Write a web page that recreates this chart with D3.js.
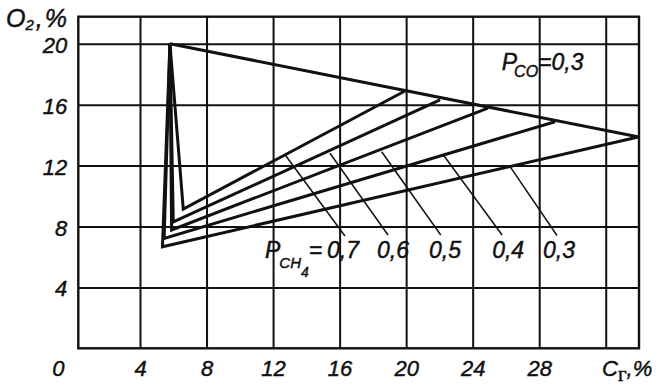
<!DOCTYPE html>
<html>
<head>
<meta charset="utf-8">
<script src="https://cdn.jsdelivr.net/npm/d3@7"></script>
<style>
  body { margin: 0; background: #fff; }
  text { font-family: "Liberation Sans", Arial, sans-serif; font-style: italic; fill: #111; stroke: #111; stroke-width: 0.45px; }
</style>
</head>
<body>
<div id="chart"></div>
<script>
// values
var xTicks = [4, 8, 12, 16, 20, 24, 28, 32];
var yTicks = [4, 8, 12, 16, 20];

// common top vertex and the P_CO = 0,3 line
var apex = [5.8, 20];
var coLineC = [5.8, 34.0];
var coLineO2 = [20, 13.88];

// P_CH4 triangles: apex -> lower vertex -> vertex on the P_CO line
var pCH4 = ["0,7", "0,6", "0,5", "0,4", "0,3"];
var lowC = [6.6, 6.0, 5.9, 5.45, 5.35];
var lowO2 = [9.15, 8.3, 7.77, 7.22, 6.67];
var upC = [19.93, 22.04, 24.92, 28.95, 33.95];
var upO2 = [16.9, 16.31, 15.78, 14.88, 13.88];

// leader lines from the labels to the lines
var leadFromC = [12.72, 15.42, 18.53, 22.24, 26.25];
var leadFromO2 = [12.71, 12.81, 12.91, 12.7, 11.93];
var leadToC = [16.32, 18.91, 22.08, 25.77, 29.07];
var leadToO2 = [7.38, 7.44, 7.44, 7.44, 7.41];
var labelC = [15.24, 18.25, 21.38, 25.17, 28.23];
var labelO2 = 5.93;

var width = 661, height = 390;

var x = d3.scaleLinear().domain([0.29, 34]).range([78.3, 639]);
var y = d3.scaleLinear().domain([0, 21.78]).range([348.3, 16.7]);

var svg = d3.select("#chart").append("svg")
  .attr("width", width)
  .attr("height", height);

// grid via axes
var xAxis = svg.append("g")
  .attr("transform", "translate(0," + y(0) + ")")
  .call(d3.axisBottom(x)
    .tickValues(xTicks)
    .tickSize(-(y(0) - y(21.78)))
    .tickPadding(12)
    .tickFormat(function(d) { return d === 32 ? "" : d; }));

var yAxis = svg.append("g")
  .attr("transform", "translate(" + x(0.29) + ",0)")
  .call(d3.axisLeft(y)
    .tickValues(yTicks)
    .tickSize(-(x(34) - x(0.29)))
    .tickPadding(11));

[xAxis, yAxis].forEach(function(g) {
  g.select(".domain").remove();
  g.selectAll(".tick line").attr("stroke", "#111").attr("stroke-width", 2);
  g.selectAll(".tick text")
    .attr("font-family", "Liberation Sans, Arial, sans-serif")
    .attr("font-style", "italic")
    .attr("font-size", 22)
    .attr("fill", "#111");
});
yAxis.selectAll(".tick text").attr("dy", "0.39em");

// frame
svg.append("rect")
  .attr("x", x(0.29))
  .attr("y", y(21.78))
  .attr("width", x(34) - x(0.29))
  .attr("height", y(0) - y(21.78))
  .attr("fill", "none")
  .attr("stroke", "#111")
  .attr("stroke-width", 2.4);

// origin label
svg.append("text")
  .attr("x", x(0) - 15)
  .attr("y", 376)
  .attr("text-anchor", "middle")
  .attr("font-size", 22)
  .text("0");

var line = d3.line()
  .x(function(d) { return x(d[0]); })
  .y(function(d) { return y(d[1]); });

// P_CO line
svg.append("path")
  .datum([[coLineC[0], coLineO2[0]], [coLineC[1], coLineO2[1]]])
  .attr("d", line)
  .attr("fill", "none")
  .attr("stroke", "#111")
  .attr("stroke-width", 3);

// P_CH4 triangles
svg.selectAll(".tri")
  .data(pCH4)
  .enter().append("path")
  .attr("class", "tri")
  .attr("d", function(d, i) {
    return line([apex, [lowC[i], lowO2[i]], [upC[i], upO2[i]]]);
  })
  .attr("fill", "none")
  .attr("stroke", "#111")
  .attr("stroke-width", 3)
  .attr("stroke-linejoin", "miter");

// leaders
svg.selectAll(".lead")
  .data(pCH4)
  .enter().append("line")
  .attr("class", "lead")
  .attr("x1", function(d, i) { return x(leadFromC[i]); })
  .attr("y1", function(d, i) { return y(leadFromO2[i]); })
  .attr("x2", function(d, i) { return x(leadToC[i]); })
  .attr("y2", function(d, i) { return y(leadToO2[i]); })
  .attr("stroke", "#111")
  .attr("stroke-width", 1.5);

// value labels
svg.selectAll(".val")
  .data(pCH4)
  .enter().append("text")
  .attr("class", "val")
  .attr("x", function(d, i) { return x(labelC[i]); })
  .attr("y", y(labelO2))
  .attr("font-size", 23)
  .text(function(d) { return d; });

// P_CH4 =
var pch = svg.append("text")
  .attr("x", 265)
  .attr("y", y(labelO2))
  .attr("font-size", 23);
pch.append("tspan").text("P");
pch.append("tspan").attr("dx", -1).attr("dy", 10).attr("font-size", 15).text("CH");
pch.append("tspan").attr("dy", 9).attr("font-size", 14).text("4");
pch.append("tspan").attr("dy", -19).text("=");

// P_CO = 0,3
var pco = svg.append("text")
  .attr("x", x(25.75))
  .attr("y", y(18.28))
  .attr("font-size", 23);
pco.append("tspan").text("P");
pco.append("tspan").attr("dx", -3).attr("dy", 7).attr("font-size", 16).text("CO");
pco.append("tspan").attr("dy", -7).text("=0,3");

// axis titles
var oy = svg.append("text")
  .attr("x", 6)
  .attr("y", 27)
  .attr("font-size", 25);
oy.append("tspan").text("O");
oy.append("tspan").attr("dy", 2.5).attr("font-size", 15).text("2");
oy.append("tspan").attr("dy", -2.5).attr("dx", 2).text(",");
oy.append("tspan").attr("dx", 2).text("%");

var cx = svg.append("text")
  .attr("x", 602)
  .attr("y", 376)
  .attr("font-size", 22);
cx.append("tspan").text("C");
cx.append("tspan")
  .attr("dy", 5)
  .attr("font-family", "Liberation Serif, serif")
  .attr("font-style", "normal")
  .attr("font-size", 21)
  .text("г");
cx.append("tspan").attr("dy", -5).text(",%");
</script>
</body>
</html>
